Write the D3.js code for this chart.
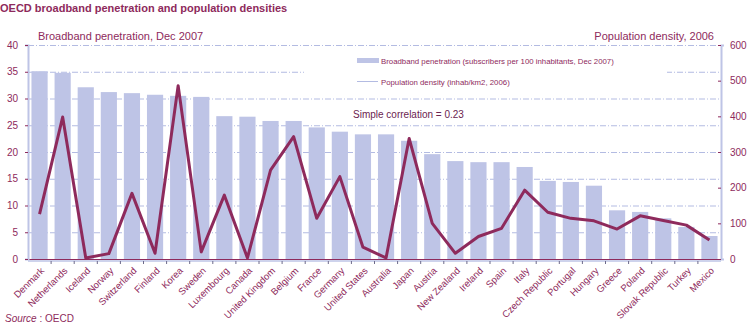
<!DOCTYPE html>
<html>
<head>
<meta charset="utf-8">
<script src="https://cdn.jsdelivr.net/npm/d3@7"></script>
<style>
  body { margin: 0; background: #fff; }
  svg { font-family: "Liberation Sans", Arial, sans-serif; }
</style>
</head>
<body>
<svg id="chart" width="750" height="325"></svg>
<script>
// data
var countries = ["Denmark","Netherlands","Iceland","Norway","Switzerland","Finland","Korea","Sweden",
  "Luxembourg","Canada","United Kingdom","Belgium","France","Germany","United States","Australia",
  "Japan","Austria","New Zealand","Ireland","Spain","Italy","Czech Republic","Portugal","Hungary",
  "Greece","Poland","Slovak Republic","Turkey","Mexico"];
var broadband = [35.1,34.8,32.1,31.2,31.0,30.7,30.5,30.3,26.7,26.6,25.8,25.8,24.6,23.8,23.3,23.3,
  22.1,19.6,18.3,18.1,18.1,17.2,14.6,14.4,13.7,9.1,8.8,7.6,6.0,4.3];
var density = [126,398,3,15,184,16,486,20,179,3,249,343,114,231,33,3,
  338,100,16,63,86,193,131,114,107,84,121,108,95,53];
var leftTicks = [0,5,10,15,20,25,30,35,40];
var rightTicks = [0,100,200,300,400,500,600];

var magenta = "#8e2a5c", lav = "#bec4e6", grid = "#b3bbe2";
var svg = d3.select("#chart");
var m = { left: 28, right: 721, top: 45, bottom: 259 };

var x = d3.scaleBand().domain(countries).range([m.left, m.right]).paddingInner(0.3).paddingOuter(0.15);
var yL = d3.scaleLinear().domain([0, 40]).range([m.bottom, m.top]);
var yR = d3.scaleLinear().domain([0, 600]).range([m.bottom, m.top]);

// gridlines
svg.append("g").selectAll("line").data(leftTicks.slice(1)).enter().append("line")
  .attr("x1", m.left).attr("x2", m.right)
  .attr("y1", function (d) { return yL(d) + 0.5; }).attr("y2", function (d) { return yL(d) + 0.5; })
  .attr("stroke", grid).attr("stroke-dasharray", "6,2,1,2").attr("stroke-width", 1);

// legend backdrop covers the grid
svg.append("rect").attr("x", 304).attr("y", 47).attr("width", 363).attr("height", 46).attr("fill", "#fff");

// bars
svg.append("g").selectAll("rect").data(countries).enter().append("rect")
  .attr("x", function (d) { return x(d); })
  .attr("width", x.bandwidth())
  .attr("y", function (d, i) { return yL(broadband[i]); })
  .attr("height", function (d, i) { return m.bottom - yL(broadband[i]); })
  .attr("fill", lav);

// zero line
svg.append("line").attr("x1", m.left).attr("x2", m.right).attr("y1", m.bottom + 0.5).attr("y2", m.bottom + 0.5)
  .attr("stroke", magenta).attr("stroke-width", 1.2);

// density line
var line = d3.line()
  .x(function (d, i) { return x(countries[i]) + x.bandwidth() / 2; })
  .y(function (d) { return yR(d); });
svg.append("path").datum(density).attr("d", line)
  .attr("fill", "none").attr("stroke", magenta).attr("stroke-width", 3).attr("stroke-linejoin", "round");

// axes
var axL = svg.append("g").attr("transform", "translate(" + m.left + ",0)")
  .call(d3.axisLeft(yL).tickValues(leftTicks).tickSize(3).tickPadding(7));
var axR = svg.append("g").attr("transform", "translate(" + m.right + ",0)")
  .call(d3.axisRight(yR).tickValues(rightTicks).tickSize(3).tickPadding(6));
[axL, axR].forEach(function (ax) {
  ax.select(".domain").attr("stroke", lav).attr("stroke-width", 2);
  ax.selectAll(".tick line").attr("stroke", magenta);
  ax.selectAll("text").attr("fill", magenta).attr("font-size", 10).style("font-family", "Liberation Sans, Arial, sans-serif");
});
axR.selectAll(".tick line").attr("x2", -3);
axL.selectAll(".tick line").attr("x2", -3);

// bottom axis ticks at category boundaries
var bounds = countries.map(function (d) { return x(d) - x.step() * x.paddingInner() / 2; }).slice(1);
svg.append("line").attr("x1", m.left).attr("x2", m.right).attr("y1", m.bottom + 2).attr("y2", m.bottom + 2)
  .attr("stroke", lav).attr("stroke-width", 1.5);
svg.append("g").selectAll("line").data(bounds).enter().append("line")
  .attr("x1", function (d) { return d; }).attr("x2", function (d) { return d; })
  .attr("y1", m.bottom + 2).attr("y2", m.bottom + 5).attr("stroke", "#6d6a8a");

// x labels
svg.append("g").selectAll("text").data(countries).enter().append("text")
  .attr("transform", function (d) {
    return "translate(" + (x(d) + x.bandwidth() / 2 + 3) + "," + (m.bottom + 10) + ") rotate(-45)";
  })
  .attr("text-anchor", "end").attr("dy", "0.35em")
  .attr("font-size", 9.5).attr("fill", magenta).text(function (d) { return d; });

// titles
svg.append("text").attr("x", 0).attr("y", 12).attr("font-size", 11).attr("font-weight", "bold")
  .attr("fill", magenta).text("OECD broadband penetration and population densities");
svg.append("text").attr("x", 38).attr("y", 40).attr("font-size", 11).attr("fill", magenta)
  .text("Broadband penetration, Dec 2007");
svg.append("text").attr("x", 714).attr("y", 40).attr("text-anchor", "end").attr("font-size", 11)
  .attr("fill", magenta).text("Population density, 2006");

// legend
svg.append("rect").attr("x", 357).attr("y", 58).attr("width", 22).attr("height", 5).attr("fill", lav);
svg.append("text").attr("x", 381).attr("y", 63.5).attr("font-size", 7.8).attr("fill", magenta)
  .text("Broadband penetration (subscribers per 100 inhabitants, Dec 2007)");
svg.append("line").attr("x1", 357).attr("x2", 378).attr("y1", 81.5).attr("y2", 81.5)
  .attr("stroke", grid).attr("stroke-width", 1);
svg.append("text").attr("x", 381).attr("y", 84.5).attr("font-size", 7.8).attr("fill", magenta)
  .text("Population density (inhab/km2, 2006)");

svg.append("text").attr("x", 353).attr("y", 118).attr("font-size", 10).attr("fill", "#6b2350")
  .text("Simple correlation = 0.23");

// source
var src = svg.append("text").attr("x", 5).attr("y", 322).attr("font-size", 10).attr("fill", magenta);
src.append("tspan").attr("font-style", "italic").text("Source");
src.append("tspan").text(" : OECD");
</script>
</body>
</html>
